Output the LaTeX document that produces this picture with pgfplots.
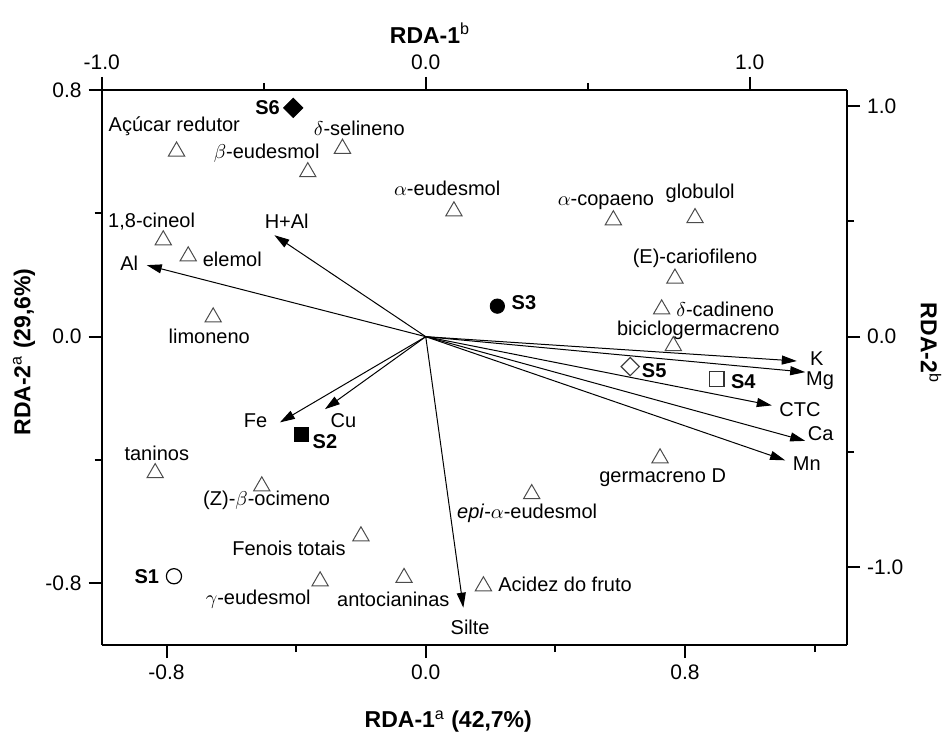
\documentclass[border=0pt]{standalone}
\usepackage{pgfplots}
\pgfplotsset{compat=1.18}
\usepackage{fontspec}
\setmainfont{Liberation Sans}
\usetikzlibrary{arrows.meta}
\tikzset{
  lab/.style={font=\fontsize{10}{12}\selectfont, inner sep=0pt},
  slab/.style={font=\fontsize{10}{12}\selectfont\bfseries, inner sep=0pt},
  arr/.style={-{Triangle[length=7.5pt,width=4.5pt]}, line width=0.5pt, black},
}
\begin{document}
\begin{tikzpicture}
\useasboundingbox (-50.85pt,-44.5pt) rectangle (421.65pt,322.5pt);
\pgfplotsset{
  common/.style={
    scale only axis, width=372.65pt, height=277.5pt,
    at={(0,0)}, anchor=south west,
    xmin=-1.0, xmax=1.3,
    tick align=outside,
    major tick length=6.5pt, minor tick length=3.5pt,
    every tick/.style={black, line width=1pt},
    axis line style={line width=1pt},
    tick label style={font=\fontsize{10.5}{12}\selectfont},
    label style={font=\fontsize{11.5}{13}\selectfont\bfseries},
  },
}
\begin{axis}[common,
  ymin=-1.3377, ymax=1.0702,
  axis x line*=top, axis y line*=right,
  xtick={-1,0,1}, xticklabels={-1.0,0.0,1.0},
  minor xtick={-0.5,0.5},
  ytick={-1,0,1}, yticklabels={-1.0,0.0,1.0},
  minor ytick={-0.5,0.5},
  xlabel={RDA-1\textsuperscript{\normalfont b}},
  ylabel={RDA-2\textsuperscript{\normalfont b}},
  xlabel style={at={(axis description cs:0.4405,1.1027)},anchor=center},
  ylabel style={at={(axis description cs:1.1127,0.544)},anchor=center,rotate=180},
]
\end{axis}
\begin{axis}[common,
  ymin=-1.0, ymax=0.8,
  axis x line*=bottom, axis y line*=left,
  xtick={-0.8,0,0.8}, xticklabels={-0.8,0.0,0.8},
  minor xtick={-0.4,0.4,1.2},
  ytick={-0.8,0,0.8}, yticklabels={-0.8,0.0,0.8},
  minor ytick={-0.4,0.4},
  xlabel={RDA-1\textsuperscript{\normalfont a} (42,7\%)},
  ylabel={RDA-2\textsuperscript{\normalfont a} (29,6\%)},
  xlabel style={at={(axis description cs:0.465,-0.138)},anchor=center},
  ylabel style={at={(axis description cs:-0.1043,0.528)},anchor=center},
  clip=false,
]
% environmental vectors
\addplot[arr] coordinates {(0,0) (-0.861,0.232)};  % Al
\addplot[arr] coordinates {(0,0) (-0.467,0.329)};  % H+Al
\addplot[arr] coordinates {(0,0) (-0.450,-0.278)}; % Fe
\addplot[arr] coordinates {(0,0) (-0.311,-0.235)}; % Cu
\addplot[arr] coordinates {(0,0) (0.116,-0.879)};  % Silte
\addplot[arr] coordinates {(0,0) (1.145,-0.079)};  % K
\addplot[arr] coordinates {(0,0) (1.171,-0.115)};  % Mg
\addplot[arr] coordinates {(0,0) (1.068,-0.223)};  % CTC
\addplot[arr] coordinates {(0,0) (1.171,-0.338)};  % Ca
\addplot[arr] coordinates {(0,0) (1.109,-0.401)};  % Mn
% response variables
\addplot[only marks, mark=triangle, mark size=4.7pt, mark options={draw=black!70, line width=0.5pt}] table {
x y
-0.769 0.601
-0.364 0.534
-0.257 0.610
0.087 0.407
-0.810 0.313
-0.733 0.261
-0.656 0.063
0.579 0.378
0.831 0.385
0.769 0.189
0.728 0.089
0.764 -0.030
0.723 -0.394
0.327 -0.510
-0.835 -0.442
-0.506 -0.485
-0.200 -0.647
-0.326 -0.793
-0.067 -0.782
0.178 -0.809
};
% samples
\addplot[only marks, mark=o, mark size=3.8pt, mark options={draw=black, line width=0.6pt}] coordinates {(-0.777,-0.777)}; % S1
\addplot[only marks, mark=square*, mark size=3.5pt, mark options={fill=black, draw=black}] coordinates {(-0.383,-0.318)}; % S2
\addplot[only marks, mark=*, mark size=3.6pt, mark options={fill=black, draw=black}] coordinates {(0.221,0.099)}; % S3
\addplot[only marks, mark=square, mark size=3.6pt, mark options={draw=black!80, line width=0.6pt}] coordinates {(0.898,-0.137)}; % S4
\addplot[only marks, mark=square, mark size=3.2pt, mark options={draw=black!75, line width=0.6pt, rotate=45}] coordinates {(0.631,-0.097)}; % S5
\addplot[only marks, mark=square*, mark size=3.4pt, mark options={fill=black, draw=black, rotate=45}] coordinates {(-0.409,0.742)}; % S6
% labels
\node[lab] at (axis cs:-0.776,0.683) {Açúcar redutor};
\node[lab] at (axis cs:-0.491,0.595) {$\beta$-eudesmol};
\node[lab] at (axis cs:-0.205,0.676) {$\delta$-selineno};
\node[lab] at (axis cs:0.066,0.481) {$\alpha$-eudesmol};
\node[lab] at (axis cs:-0.846,0.372) {1,8-cineol};
\node[lab] at (axis cs:-0.429,0.374) {H+Al};
\node[lab] at (axis cs:0.556,0.437) {$\alpha$-copaeno};
\node[lab] at (axis cs:0.847,0.466) {globulol};
\node[lab] at (axis cs:-0.597,0.251) {elemol};
\node[lab] at (axis cs:-0.915,0.238) {Al};
\node[lab] at (axis cs:-0.668,0.0) {limoneno};
\node[lab] at (axis cs:-0.525,-0.272) {Fe};
\node[lab] at (axis cs:-0.254,-0.272) {Cu};
\node[lab] at (axis cs:0.831,0.254) {(E)-cariofileno};
\node[lab] at (axis cs:0.924,0.090) {$\delta$-cadineno};
\node[lab] at (axis cs:0.841,0.022) {biciclogermacreno};
\node[lab] at (axis cs:1.207,-0.070) {K};
\node[lab] at (axis cs:1.217,-0.142) {Mg};
\node[lab] at (axis cs:1.155,-0.235) {CTC};
\node[lab] at (axis cs:1.219,-0.313) {Ca};
\node[lab] at (axis cs:1.176,-0.412) {Mn};
\node[lab] at (axis cs:-0.830,-0.380) {taninos};
\node[lab] at (axis cs:-0.491,-0.532) {(Z)-$\beta$-ocimeno};
\node[lab] at (axis cs:-0.422,-0.688) {Fenois totais};
\node[lab] at (axis cs:-0.517,-0.850) {$\gamma$-eudesmol};
\node[lab] at (axis cs:-0.100,-0.852) {antocianinas};
\node[lab] at (axis cs:0.137,-0.943) {Silte};
\node[lab] at (axis cs:0.430,-0.804) {Acidez do fruto};
\node[lab] at (axis cs:0.731,-0.458) {germacreno D};
\node[lab] at (axis cs:0.313,-0.574) {\textit{epi}-$\alpha$-eudesmol};
\node[slab] at (axis cs:-0.488,0.744) {S6};
\node[slab] at (axis cs:-0.311,-0.340) {S2};
\node[slab] at (axis cs:0.303,0.110) {S3};
\node[slab] at (axis cs:0.705,-0.110) {S5};
\node[slab] at (axis cs:0.980,-0.146) {S4};
\node[slab] at (axis cs:-0.861,-0.777) {S1};
\end{axis}
\end{tikzpicture}
\end{document}
